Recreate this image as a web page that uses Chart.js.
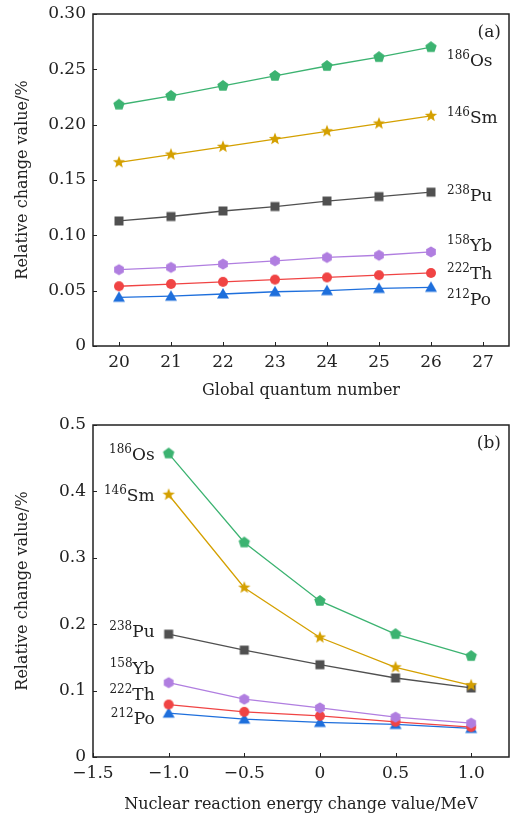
<!DOCTYPE html>
<html>
<head>
<meta charset="utf-8">
<script src="https://cdn.jsdelivr.net/npm/chart.js@4"></script>
<style>
  body { margin: 0; background: #fff; }
  canvas { display: block; }
</style>
</head>
<body>
<canvas id="chartA" width="510" height="400"></canvas>
<canvas id="chartB" width="510" height="414"></canvas>
<script>
// nuclides
const massNumbers = ["186", "146", "238", "158", "222", "212"];
const symbols = ["Os", "Sm", "Pu", "Yb", "Th", "Po"];

// (a) relative change vs global quantum number
const quantumNumbers = [20, 21, 22, 23, 24, 25, 26];
const osQuantum = [0.218, 0.226, 0.235, 0.244, 0.253, 0.261, 0.270];
const smQuantum = [0.166, 0.173, 0.180, 0.187, 0.194, 0.201, 0.208];
const puQuantum = [0.113, 0.117, 0.122, 0.126, 0.131, 0.135, 0.139];
const ybQuantum = [0.069, 0.071, 0.074, 0.077, 0.080, 0.082, 0.085];
const thQuantum = [0.054, 0.056, 0.058, 0.060, 0.062, 0.064, 0.066];
const poQuantum = [0.044, 0.045, 0.047, 0.049, 0.050, 0.052, 0.053];

// (b) relative change vs nuclear reaction energy change
const energyChanges = [-1.0, -0.5, 0, 0.5, 1.0];
const osEnergy = [0.457, 0.323, 0.235, 0.185, 0.152];
const smEnergy = [0.395, 0.255, 0.180, 0.135, 0.108];
const puEnergy = [0.185, 0.161, 0.139, 0.119, 0.104];
const ybEnergy = [0.112, 0.087, 0.074, 0.060, 0.051];
const thEnergy = [0.079, 0.068, 0.062, 0.053, 0.045];
const poEnergy = [0.066, 0.057, 0.052, 0.049, 0.043];

// tick labels
const xTicksA = [20, 21, 22, 23, 24, 25, 26, 27];
const yTicksA = [0, 0.05, 0.10, 0.15, 0.20, 0.25, 0.30];
const xTicksB = [-1.5, -1.0, -0.5, 0, 0.5, 1.0];
const yTicksB = [0, 0.1, 0.2, 0.3, 0.4, 0.5];

const colors = ["#3cb371", "#d4a000", "#505050", "#b07ee0", "#f04444", "#1e6fdc"];
const shapes = ["pentagon", "star", "square", "hexagon", "circle", "triangle"];
const FONT = '"DejaVu Serif", serif';
const INK = "#222";

function marker(shape, color) {
  const s = 16, c = document.createElement("canvas");
  c.width = c.height = s;
  const g = c.getContext("2d");
  const cx = s / 2, cy = s / 2;
  g.fillStyle = color;
  g.beginPath();
  if (shape === "circle") {
    g.arc(cx, cy, 5, 0, 2 * Math.PI);
  } else if (shape === "square") {
    g.rect(cx - 4.5, cy - 4.5, 9, 9);
  } else if (shape === "triangle") {
    g.moveTo(cx, cy - 6);
    g.lineTo(cx + 6, cy + 4.5);
    g.lineTo(cx - 6, cy + 4.5);
  } else {
    const n = shape === "star" ? 10 : shape === "pentagon" ? 5 : 6;
    for (let k = 0; k < n; k++) {
      const a = -Math.PI / 2 + (k * 2 * Math.PI) / n;
      let r = shape === "pentagon" ? 6 : 5.6;
      if (shape === "star") r = k % 2 ? 2.8 : 6.5;
      const px = cx + r * Math.cos(a), py = cy + r * Math.sin(a);
      k ? g.lineTo(px, py) : g.moveTo(px, py);
    }
  }
  g.closePath();
  g.fill();
  return c;
}

function makeDatasets(xs, series) {
  return series.map((ys, i) => ({
    data: xs.map((x, j) => ({ x: x, y: ys[j] })),
    borderColor: colors[i],
    backgroundColor: colors[i],
    borderWidth: 1.3,
    pointStyle: marker(shapes[i], colors[i]),
    tension: 0,
  }));
}

// box round the plot with inward ticks on the bottom and left axes
const frame = {
  id: "frame",
  afterDraw(chart) {
    const a = chart.chartArea, ctx = chart.ctx;
    const xs = chart.scales.x, ys = chart.scales.y;
    ctx.save();
    ctx.strokeStyle = "#222";
    ctx.lineWidth = 1;
    ctx.beginPath();
    xs.ticks.forEach((t) => {
      const px = Math.round(xs.getPixelForValue(t.value)) + 0.5;
      ctx.moveTo(px, a.bottom);
      ctx.lineTo(px, a.bottom - 4);
    });
    ys.ticks.forEach((t) => {
      const py = Math.round(ys.getPixelForValue(t.value)) + 0.5;
      ctx.moveTo(a.left, py);
      ctx.lineTo(a.left + 4, py);
    });
    ctx.stroke();
    ctx.lineWidth = 1.5;
    ctx.strokeRect(a.left, a.top, a.right - a.left, a.bottom - a.top);
    ctx.restore();
  },
};

const nuclideLabels = {
  id: "nuclideLabels",
  afterDatasetsDraw(chart, args, opts) {
    const ctx = chart.ctx, a = chart.chartArea;
    chart.data.datasets.forEach((ds, i) => {
      const meta = chart.getDatasetMeta(i);
      const pt = opts.side === "right" ? meta.data[meta.data.length - 1] : meta.data[0];
      ctx.save();
      ctx.fillStyle = INK;
      ctx.textBaseline = "alphabetic";
      ctx.textAlign = "left";
      const supFont = "12px " + FONT, mainFont = "17px " + FONT;
      ctx.font = supFont;
      const w1 = ctx.measureText(massNumbers[i]).width;
      ctx.font = mainFont;
      const w2 = ctx.measureText(symbols[i]).width;
      const x = opts.side === "right" ? pt.x + opts.dx : pt.x - opts.dx - w1 - w2;
      const y = pt.y + opts.dy[i] + 6;
      ctx.font = supFont;
      ctx.fillText(massNumbers[i], x, y - 7);
      ctx.font = mainFont;
      ctx.fillText(symbols[i], x + w1, y);
      ctx.restore();
    });
    ctx.save();
    ctx.fillStyle = INK;
    ctx.font = "17px " + FONT;
    ctx.textAlign = "right";
    ctx.textBaseline = "middle";
    ctx.fillText(opts.panel, a.right - 8, a.top + 19);
    ctx.restore();
  },
};

function axisBase() {
  return {
    grid: { display: false, drawTicks: false },
    border: { display: false },
    ticks: { font: { family: FONT, size: 17 }, color: INK, padding: 6 },
    title: { display: true, font: { family: FONT, size: 16 }, color: INK },
  };
}

function makeChart(id, cfg) {
  const xAxis = axisBase();
  Object.assign(xAxis, {
    type: "linear", min: cfg.xMin, max: cfg.xMax,
    afterBuildTicks: (s) => { s.ticks = cfg.xTicks.map((v) => ({ value: v })); },
    afterFit: (s) => {
      s.height = cfg.xHeight;
      s.paddingLeft = 0;
      s.paddingRight = 0;
    },
  });
  xAxis.ticks.callback = cfg.xFormat;
  xAxis.title.text = cfg.xTitle;
  xAxis.title.padding = { top: 5, bottom: 0 };

  const yAxis = axisBase();
  Object.assign(yAxis, {
    type: "linear", min: cfg.yMin, max: cfg.yMax,
    afterBuildTicks: (s) => { s.ticks = cfg.yTicks.map((v) => ({ value: v })); },
    afterFit: (s) => {
      s.width = 93;
      s.paddingTop = 0;
      s.paddingBottom = 0;
    },
  });
  yAxis.ticks.callback = cfg.yFormat;
  yAxis.ticks.padding = 7;
  yAxis.title.text = "Relative change value/%";
  yAxis.title.padding = { top: 13, bottom: 0 };

  return new Chart(document.getElementById(id), {
    type: "line",
    data: { datasets: makeDatasets(cfg.xs, cfg.series) },
    options: {
      responsive: false,
      animation: false,
      layout: { autoPadding: false, padding: { top: cfg.top, right: 1, left: 0, bottom: 0 } },
      plugins: {
        legend: { display: false },
        tooltip: { enabled: false },
        nuclideLabels: cfg.labels,
      },
      scales: { x: xAxis, y: yAxis },
    },
    plugins: [frame, nuclideLabels],
  });
}

makeChart("chartA", {
  xs: quantumNumbers,
  series: [osQuantum, smQuantum, puQuantum, ybQuantum, thQuantum, poQuantum],
  xMin: 19.5, xMax: 27.5, yMin: 0, yMax: 0.30,
  xTicks: xTicksA, yTicks: yTicksA,
  xFormat: (v) => String(v),
  yFormat: (v) => (v === 0 ? "0" : v.toFixed(2)),
  xTitle: "Global quantum number",
  xHeight: 54, top: 14,
  labels: { side: "right", dx: 16, dy: [13, 1, 3, -7, 0, 12], panel: "(a)" },
});

makeChart("chartB", {
  xs: energyChanges,
  series: [osEnergy, smEnergy, puEnergy, ybEnergy, thEnergy, poEnergy],
  xMin: -1.5, xMax: 1.25, yMin: 0, yMax: 0.5,
  xTicks: xTicksB, yTicks: yTicksB,
  xFormat: (v) => (v === 0 ? "0" : (v < 0 ? "\u2212" : "") + Math.abs(v).toFixed(1)),
  yFormat: (v) => (v === 0 ? "0" : v.toFixed(1)),
  xTitle: "Nuclear reaction energy change value/MeV",
  xHeight: 57, top: 25,
  labels: { side: "left", dx: 14, dy: [0, 0, -3, -15, -11, 5], panel: "(b)" },
});
</script>
</body>
</html>
